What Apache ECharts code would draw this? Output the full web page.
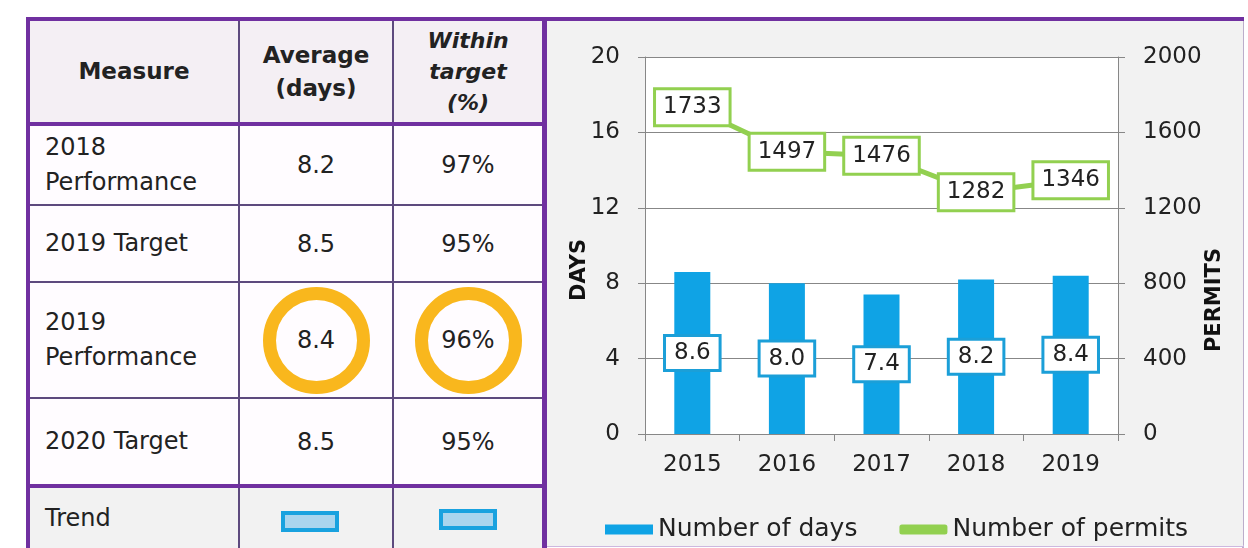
<!DOCTYPE html>
<html>
<head>
<meta charset="utf-8">
<script src="https://cdn.jsdelivr.net/npm/echarts@6/dist/echarts.min.js"></script>
<style>
body{margin:0;width:1248px;height:548px;overflow:hidden;background:#fff;font-family:"DejaVu Sans",sans-serif;color:#222;position:relative;}
.cell{position:absolute;display:flex;align-items:center;justify-content:center;text-align:center;font-size:24px;}
.cell.left{justify-content:flex-start;text-align:left;padding-left:15px;box-sizing:border-box;}
.hd{font-weight:bold;font-size:23px;line-height:33px;}
.ln{position:absolute;}
.ring{width:81px;height:81px;border:13px solid #f9b71d;border-radius:50%;display:flex;align-items:center;justify-content:center;}
.trend{width:50px;height:13px;border:4px solid #19a2df;background:#a9d5ee;}
#chart{position:absolute;left:547px;top:21px;width:696px;height:525px;}
</style>
</head>
<body>
<div id="tbl"></div>
<div id="chart"></div>
<script>
// table
var measures = ['2018<br>Performance', '2019 Target', '2019<br>Performance', '2020 Target'];
var avgDays = ['8.2', '8.5', '8.4', '8.5'];
var withinTarget = ['97%', '95%', '96%', '95%'];
// chart
var years = ['2015', '2016', '2017', '2018', '2019'];
var days = [8.6, 8.0, 7.4, 8.2, 8.4];
var permits = [1733, 1497, 1476, 1282, 1346];

var cols = [[30, 208], [240, 152], [394, 148]];
var rows = [[126, 78], [206, 75], [283, 114], [399, 85]];
var tbl = document.getElementById('tbl');
var html = '';

function cell(x, w, y, h, bg, cls, content){
    return '<div class="cell ' + cls + '" style="left:' + x + 'px;top:' + y + 'px;width:' + w + 'px;height:' + h + 'px;background:' + bg + '">' + content + '</div>';
}
function line(x, y, w, h, c){
    return '<div class="ln" style="left:' + x + 'px;top:' + y + 'px;width:' + w + 'px;height:' + h + 'px;background:' + c + '"></div>';
}

// header
html += cell(cols[0][0], cols[0][1], 21, 101, '#f4eff4', 'hd', 'Measure');
html += cell(cols[1][0], cols[1][1], 21, 101, '#f4eff4', 'hd', 'Average<br>(days)');
html += cell(cols[2][0], cols[2][1], 21, 101, '#f4eff4', 'hd', '<i style="line-height:31px;font-size:22px">Within<br>target<br>(%)</i>');

rows.forEach(function(r, i){
    html += cell(cols[0][0], cols[0][1], r[0], r[1], '#fffcff', 'left', '<span style="line-height:35px">' + measures[i] + '</span>');
    if (i === 2) {
        html += cell(cols[1][0], cols[1][1], r[0], r[1], '#fffcff', '', '<div class="ring">' + avgDays[i] + '</div>');
        html += cell(cols[2][0], cols[2][1], r[0], r[1], '#fffcff', '', '<div class="ring">' + withinTarget[i] + '</div>');
    } else {
        html += cell(cols[1][0], cols[1][1], r[0], r[1], '#fffcff', '', avgDays[i]);
        html += cell(cols[2][0], cols[2][1], r[0], r[1], '#fffcff', '', withinTarget[i]);
    }
});

// trend row
html += cell(cols[0][0], cols[0][1], 488, 60, '#f2f2f2', 'left', 'Trend');
html += cell(cols[1][0], cols[1][1], 488, 66, '#f2f2f2', '', '<div class="trend" style="margin-right:12px"></div>');
html += cell(cols[2][0], cols[2][1], 488, 62, '#f2f2f2', '', '<div class="trend"></div>');

// grid lines of the table
var thin = '#5d4a7e', thick = '#7030a0';
html += line(26, 17, 1218, 4, thick);
html += line(26, 17, 4, 531, thick);
html += line(238, 21, 2, 527, thin);
html += line(392, 21, 2, 527, thin);
html += line(542, 17, 5, 531, thick);
html += line(30, 122, 512, 4, thick);
html += line(30, 204, 512, 2, thin);
html += line(30, 281, 512, 2, thin);
html += line(30, 397, 512, 2, thin);
html += line(30, 484, 512, 4, thick);
html += line(1242, 21, 2, 527, '#bcaecb');
html += line(547, 545, 697, 2, '#cdb8df');
tbl.innerHTML = html;

var font = 'DejaVu Sans';
var axisColor = '#878787';
var myChart = echarts.init(document.getElementById('chart'));
var option = {
    backgroundColor: '#f2f2f2',
    textStyle: { fontFamily: font },
    grid: {
        left: 98,
        right: 125,
        top: 36,
        bottom: 112,
        show: true,
        backgroundColor: '#fff',
        borderWidth: 0
    },
    legend: {
        left: 53,
        top: 491,
        itemWidth: 48,
        itemHeight: 10,
        itemGap: 42,
        textStyle: { fontSize: 25, color: '#222', fontFamily: font },
        data: [
            { name: 'Number of days', icon: 'rect' },
            { name: 'Number of permits', icon: 'roundRect' }
        ]
    },
    xAxis: {
        type: 'category',
        data: years,
        boundaryGap: true,
        axisLine: { show: true, lineStyle: { color: axisColor } },
        axisTick: { show: true, length: 7, alignWithLabel: false, lineStyle: { color: axisColor } },
        axisLabel: { fontSize: 23, color: '#222', margin: 20, fontFamily: font },
        splitLine: { show: false }
    },
    yAxis: [
        {
            type: 'value',
            min: 0,
            max: 20,
            interval: 4,
            axisLine: { show: true, lineStyle: { color: axisColor } },
            axisTick: { show: true, length: 7, lineStyle: { color: axisColor } },
            axisLabel: { fontSize: 23, color: '#222', margin: 25, fontFamily: font },
            splitLine: { show: true, lineStyle: { color: axisColor, width: 1 } }
        },
        {
            type: 'value',
            position: 'right',
            min: 0,
            max: 2000,
            interval: 400,
            axisLine: { show: true, lineStyle: { color: axisColor } },
            axisTick: { show: true, length: 7, lineStyle: { color: axisColor } },
            axisLabel: {
                fontSize: 23, color: '#222', margin: 25, fontFamily: font,
                formatter: function(v){ return String(v); }
            },
            splitLine: { show: false }
        }
    ],
    graphic: [
        {
            type: 'text', x: 33, y: 249, rotation: Math.PI / 2,
            style: { text: 'DAYS', font: 'bold 21px "DejaVu Sans"', fill: '#111', align: 'center', verticalAlign: 'middle' }
        },
        {
            type: 'text', x: 668, y: 279, rotation: Math.PI / 2,
            style: { text: 'PERMITS', font: 'bold 21px "DejaVu Sans"', fill: '#111', align: 'center', verticalAlign: 'middle' }
        }
    ],
    series: [
        {
            name: 'Number of days',
            type: 'bar',
            barWidth: 36,
            itemStyle: { color: '#0fa3e5' },
            label: {
                show: true,
                position: 'inside',
                formatter: function(p){ return p.value.toFixed(1); },
                color: '#222',
                fontSize: 23,
                fontFamily: font,
                textBorderWidth: 0,
                backgroundColor: '#fff',
                borderColor: '#1b9fd8',
                borderWidth: 3,
                padding: [5, 8, 4, 8]
            },
            data: days
        },
        {
            name: 'Number of permits',
            type: 'line',
            yAxisIndex: 1,
            symbol: 'circle',
            symbolSize: 2,
            itemStyle: { color: '#92d050' },
            lineStyle: { color: '#92d050', width: 5 },
            label: {
                show: true,
                position: 'inside',
                color: '#222',
                fontSize: 23,
                fontFamily: font,
                backgroundColor: '#fff',
                borderColor: '#92d050',
                borderWidth: 3,
                padding: [6, 7, 5, 7]
            },
            data: permits
        }
    ]
};
myChart.setOption(option);
</script>
</body>
</html>
